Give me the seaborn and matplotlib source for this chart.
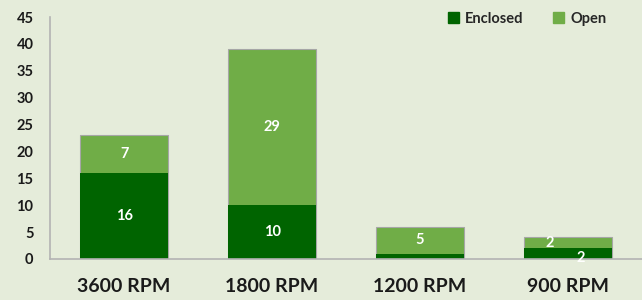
import numpy as np
import pandas as pd
import matplotlib.pyplot as plt
import seaborn as sns
from matplotlib.patches import Patch

speeds = ['3600 RPM', '1800 RPM', '1200 RPM', '900 RPM']
enclosed = [16, 10, 1, 2]
open_ = [7, 29, 5, 2]

bg = '#e5ecda'
dark = '#006400'
light = '#70ad47'

sns.set_theme(style='white')
plt.rcParams['font.family'] = ['Lato', 'DejaVu Sans']

df = pd.DataFrame({'speed': speeds, 'Enclosed': enclosed, 'Open': open_})
df['Total'] = df['Enclosed'] + df['Open']

fig = plt.figure(figsize=(6.42, 3.0), dpi=100, facecolor=bg)
ax = fig.add_axes([0.078, 0.137, 0.922, 0.806])
ax.set_facecolor(bg)

# stacked bars: totals (open colour) first, enclosed drawn over them
sns.barplot(data=df, x='speed', y='Total', color=light, width=0.6, saturation=1,
            edgecolor='#a6a6a6', linewidth=0.8, ax=ax)
sns.barplot(data=df, x='speed', y='Enclosed', color=dark, width=0.6, saturation=1,
            linewidth=0, ax=ax)

lab_kw = dict(ha='center', va='center', color='white', fontsize=10.5,
              fontweight='bold', textcoords='offset points')
for i, (e, o) in enumerate(zip(enclosed, open_)):
    if e > 2:
        ax.annotate(str(o), (i, e + o / 2), xytext=(0, 0), **lab_kw)
        ax.annotate(str(e), (i, e / 2), xytext=(0, 0), **lab_kw)
    elif e == 2:
        # thin segments: labels pushed apart like the original
        ax.annotate(str(o), (i, e + o / 2), xytext=(-13, -0.5), **lab_kw)
        ax.annotate(str(e), (i, e / 2), xytext=(9, -3), **lab_kw)
    else:
        ax.annotate(str(o), (i, e + o / 2), xytext=(0, 0), **lab_kw)

ax.set_ylim(0, 45)
ax.set_yticks(range(0, 46, 5))
ax.set_xlim(-0.5, 3.5)
ax.set_xlabel('')
ax.set_ylabel('')
ax.tick_params(axis='y', labelsize=10.5, length=0, pad=12)
ax.tick_params(axis='x', labelsize=14, length=0, pad=14)
for lab in ax.get_xticklabels() + ax.get_yticklabels():
    lab.set_fontweight('bold')
    lab.set_color('#1a1a1a')

for s in ['top', 'right']:
    ax.spines[s].set_visible(False)
for s in ['left', 'bottom']:
    ax.spines[s].set_color('#b3b3b3')
    ax.spines[s].set_linewidth(1.2)

handles = [Patch(color=dark, label='Enclosed'), Patch(color=light, label='Open')]
fig.legend(handles=handles, loc='upper right', bbox_to_anchor=(0.965, 1.005),
           ncol=2, frameon=False, handlelength=0.8, handleheight=0.8,
           columnspacing=2.0, handletextpad=0.4,
           prop={'weight': 'bold', 'size': 10.5})

fig.savefig('out.png', dpi=100, facecolor=bg)
